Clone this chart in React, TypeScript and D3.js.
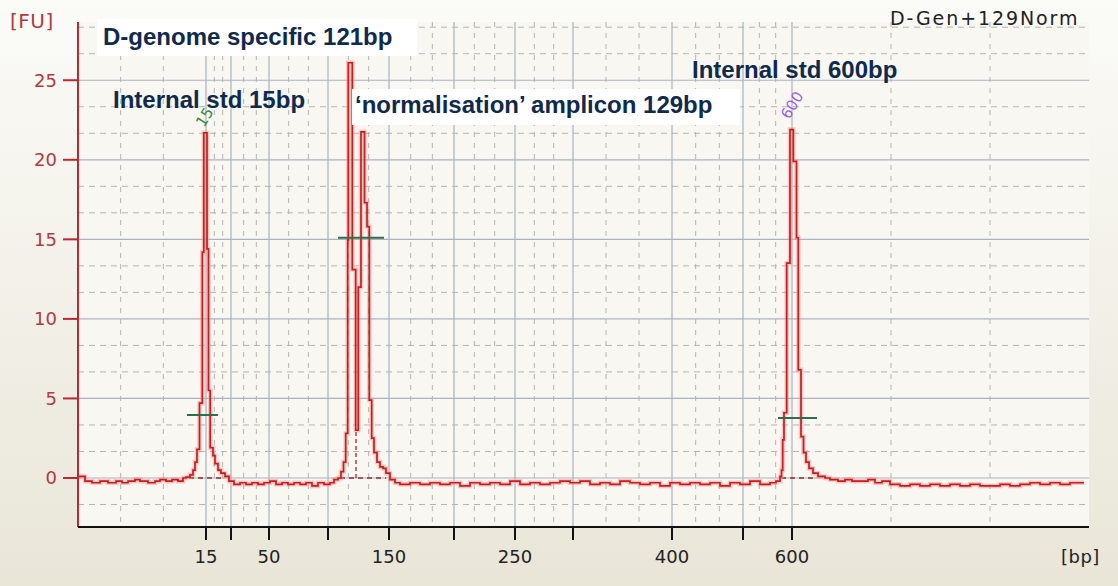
import React from 'react';
import * as d3 from 'd3';

// Ladder positions on the migration axis (s) and their sizes (bp)
const ladderTime = [42.8, 45.3, 49.1, 55.0, 61.1, 67.6, 73.7, 79.5, 89.4, 96.5, 101.4];
const ladderBp = [15, 25, 50, 100, 150, 200, 250, 300, 400, 500, 600];
const labelledBp = [15, 50, 150, 250, 400, 600];
const fuTicks = [0, 5, 10, 15, 20, 25];
const timeDomain = [30, 131.1];
const fuDomain = [-3.08, 28.66];

// Electropherogram trace: [migration time (s), fluorescence (FU)]
const traceLeft: [number, number][] = [
  [30.0, 0.1], [30.7, -0.2], [31.4, -0.3], [32.2, -0.2], [33.0, -0.3], [33.8, -0.2], [34.4, -0.3],
  [35.0, -0.2], [35.7, -0.1], [36.2, -0.2], [37.0, -0.3], [37.7, -0.2], [38.2, -0.1], [38.8, -0.2],
  [39.4, -0.1], [40.0, -0.2], [40.5, 0.0],
];
const tracePeak15: [number, number][] = [
  [40.8, 0.05], [41.2, 0.2], [41.5, 0.5], [41.7, 1.0], [41.9, 1.8], [42.15, 4.7], [42.43, 14.2],
  [42.58, 21.7], [42.9, 14.4], [43.05, 5.5], [43.22, 1.9], [43.5, 1.4], [43.7, 0.9], [44.0, 0.5],
  [44.3, 0.3], [44.7, 0.1],
];
const traceMid1: [number, number][] = [
  [45.1, -0.2], [45.6, -0.4], [46.2, -0.3], [46.8, -0.4], [47.4, -0.3], [48.0, -0.4], [48.6, -0.3],
  [49.2, -0.2], [49.8, -0.4], [50.4, -0.3], [51.0, -0.4], [51.6, -0.3], [52.2, -0.4], [52.8, -0.3],
  [53.4, -0.5], [54.0, -0.3], [54.6, -0.4], [55.2, -0.3], [55.6, -0.1],
];
const tracePeak121_129: [number, number][] = [
  [56.0, 0.0], [56.3, 0.4], [56.55, 1.0], [56.77, 2.8], [56.97, 14.95], [57.03, 26.1], [57.43, 13.1],
  [57.77, 3.0], [58.03, 12.0], [58.3, 21.75], [58.65, 17.3], [58.9, 15.8], [59.13, 4.9], [59.37, 2.5],
  [59.6, 1.6], [59.9, 1.0], [60.2, 0.7], [60.5, 0.6], [60.8, 0.3], [61.2, -0.1],
];
const traceMid2: [number, number][] = [
  [61.7, -0.3], [62.2, -0.4], [63.2, -0.3], [64.2, -0.4], [65.2, -0.3], [66.2, -0.4], [67.2, -0.3],
  [68.2, -0.5], [69.2, -0.3], [70.2, -0.4], [71.2, -0.3], [72.2, -0.4], [73.2, -0.2], [74.2, -0.4],
  [75.2, -0.3], [76.2, -0.4], [77.2, -0.3], [78.2, -0.2], [79.2, -0.3], [80.2, -0.2], [81.2, -0.4],
  [82.2, -0.3], [83.2, -0.4], [84.2, -0.2], [85.2, -0.3], [86.2, -0.4], [87.2, -0.3], [88.2, -0.5],
  [89.2, -0.3], [90.2, -0.4], [91.2, -0.3], [92.2, -0.4], [93.2, -0.3], [94.2, -0.5], [95.2, -0.3],
  [96.2, -0.4], [97.2, -0.2], [98.2, -0.4], [99.2, -0.3], [99.8, -0.2],
];
const tracePeak600: [number, number][] = [
  [100.2, 0.1], [100.35, 0.5], [100.47, 2.4], [100.6, 4.1], [100.87, 13.5], [101.2, 21.9],
  [101.53, 19.9], [101.85, 15.1], [102.03, 6.8], [102.3, 2.6], [102.55, 1.6], [102.8, 1.0],
  [103.1, 0.6], [103.5, 0.3], [104.0, 0.1],
];
const traceRight: [number, number][] = [
  [104.7, 0.0], [105.2, -0.1], [106.0, -0.2], [106.7, -0.1], [107.4, -0.2], [108.2, -0.2], [109.0, -0.1],
  [109.7, -0.3], [110.4, -0.2], [111.2, -0.4], [112.2, -0.5], [113.2, -0.4], [114.2, -0.5], [115.2, -0.4],
  [116.2, -0.5], [117.2, -0.4], [118.2, -0.5], [119.2, -0.4], [120.2, -0.5], [121.2, -0.5], [122.2, -0.4],
  [123.2, -0.5], [124.2, -0.4], [125.2, -0.3], [126.2, -0.4], [127.2, -0.3], [128.2, -0.4], [129.2, -0.3],
  [130.5, -0.3], [130.6, -0.3],
];

// Peak integration marks
const peakMarkStart = [40.9, 56.0, 100.0];
const peakMarkEnd = [44.0, 60.6, 103.9];
const peakMarkLevel = [3.96, 15.1, 3.77];
const peakBaseStart = [41.1, 56.2, 100.3];
const peakBaseEnd = [44.5, 60.8, 103.8];
const splitTime = [57.8];
const splitLevel = [3.0];

// Ladder peak tags
const tagText = ['15', '600'];
const tagTime = [42.6, 101.1];
const tagFU = [22.0, 22.5];
const tagColor = ['#2f8a3e', '#9a5ee6'];

const W = 1118;
const H = 586;
const L = 78, R = 1089, T = 22, B = 527;

export default function App() {
  const x = d3.scaleLinear().domain(timeDomain).range([L, R]);
  const y = d3.scaleLinear().domain(fuDomain).range([B, T]);

  const trace = [...traceLeft, ...tracePeak15, ...traceMid1, ...tracePeak121_129, ...traceMid2, ...tracePeak600, ...traceRight];
  const line = d3.line<[number, number]>().x(d => x(d[0])).y(d => y(d[1])).curve(d3.curveStepAfter);
  const path = line(trace) || '';

  // minor vertical grid: thirds of each ladder segment
  const bounds = [timeDomain[0], ...ladderTime, timeDomain[1]];
  const minorV: number[] = [];
  for (let i = 0; i < bounds.length - 1; i++) {
    const a = bounds[i], b = bounds[i + 1];
    minorV.push(a + (b - a) / 3, a + (2 * (b - a)) / 3);
  }
  const minorH: number[] = [];
  for (let v = -5; v <= 30; v += 5) {
    [v + 5 / 3, v + 10 / 3].forEach(m => { if (m > fuDomain[0] && m < fuDomain[1]) minorH.push(m); });
  }

  const tickFont = "'DejaVu Sans', Verdana, sans-serif";
  const annFont = "'Liberation Sans', Arial, Helvetica, sans-serif";
  const navy = '#0f2a4d';

  return (
    <svg width={W} height={H} style={{ position: 'fixed', left: 0, top: 0, display: 'block' }}>
      <defs>
        <linearGradient id="bg" x1="0" y1="0" x2="0" y2="1">
          <stop offset="0" stopColor="#fbfbf8" />
          <stop offset="1" stopColor="#e9e6d8" />
        </linearGradient>
      </defs>
      <rect x={0} y={0} width={W} height={H} fill="url(#bg)" />
      <rect x={L} y={T} width={R - L} height={B - T} fill="#f8f7f2" />

      {/* minor grid */}
      {minorH.map((v, i) => (
        <line key={'mh' + i} x1={L} x2={R} y1={y(v)} y2={y(v)} stroke="#b4b4b0" strokeWidth={1} strokeDasharray="6,5" />
      ))}
      {minorV.map((t, i) => (
        <line key={'mv' + i} x1={x(t)} x2={x(t)} y1={T} y2={B} stroke="#b4b4b0" strokeWidth={1} strokeDasharray="5,6" />
      ))}
      {/* major grid */}
      {fuTicks.map(v => (
        <line key={'h' + v} x1={L} x2={R} y1={y(v)} y2={y(v)} stroke="#a9b3c2" strokeWidth={1.2} />
      ))}
      {ladderTime.map((t, i) => (
        <line key={'v' + i} x1={x(t)} x2={x(t)} y1={T} y2={B} stroke="#a9b3c2" strokeWidth={1.2} />
      ))}

      {/* peak baselines */}
      {peakBaseStart.map((s, i) => (
        <line key={'pb' + i} x1={x(s)} x2={x(peakBaseEnd[i])} y1={y(0)} y2={y(0)} stroke="#9a2a2a" strokeWidth={1.3} strokeDasharray="5,4" />
      ))}
      {splitTime.map((t, i) => (
        <line key={'sp' + i} x1={x(t)} x2={x(t)} y1={y(0)} y2={y(splitLevel[i])} stroke="#9a2a2a" strokeWidth={1.3} strokeDasharray="4,3" />
      ))}

      {/* trace */}
      <path d={path} fill="none" stroke="#ff8a8a" strokeOpacity={0.45} strokeWidth={4.5} />
      <path d={path} fill="none" stroke="#c81d1d" strokeWidth={1.7} />

      {/* peak markers */}
      {peakMarkStart.map((s, i) => (
        <line key={'pm' + i} x1={x(s)} x2={x(peakMarkEnd[i])} y1={y(peakMarkLevel[i])} y2={y(peakMarkLevel[i])} stroke="#2e6e4e" strokeWidth={2} />
      ))}

      {/* ladder tags */}
      {tagText.map((t, i) => (
        <text key={'tg' + i} transform={`translate(${x(tagTime[i])},${y(tagFU[i])}) rotate(-58)`} fontFamily={tickFont} fontSize={15} fill={tagColor[i]}>{t}</text>
      ))}

      {/* y axis */}
      <line x1={L} x2={L} y1={T} y2={B} stroke="#c0262d" strokeWidth={2} />
      {fuTicks.map(v => (
        <g key={'yt' + v}>
          <line x1={L - 15} x2={L} y1={y(v)} y2={y(v)} stroke="#c0262d" strokeWidth={2} />
          <text x={L - 21} y={y(v)} dy="0.36em" textAnchor="end" fontFamily={tickFont} fontSize={18} fill="#b23a40">{v}</text>
        </g>
      ))}
      <text x={10} y={28} fontFamily={tickFont} fontSize={20} fill="#b23a40" letterSpacing={0.5}>[FU]</text>

      {/* x axis */}
      <line x1={L} x2={R} y1={B} y2={B} stroke="#111" strokeWidth={2} />
      {ladderTime.map((t, i) => (
        <line key={'xt' + i} x1={x(t)} x2={x(t)} y1={B} y2={B + 13} stroke="#111" strokeWidth={2} />
      ))}
      {ladderTime.map((t, i) => labelledBp.includes(ladderBp[i]) ? (
        <text key={'xl' + i} x={x(t)} y={563} textAnchor="middle" fontFamily={tickFont} fontSize={18} fill="#222">{ladderBp[i]}</text>
      ) : null)}
      <text x={1061} y={563} fontFamily={tickFont} fontSize={18} fill="#222" letterSpacing={0.5}>[bp]</text>

      {/* title */}
      <text x={890} y={25} fontFamily={tickFont} fontSize={19} fill="#222" letterSpacing={1.9}>D-Gen+129Norm</text>

      {/* annotations */}
      <rect x={97} y={19} width={320} height={37} fill="#ffffff" />
      <text x={103} y={45} fontFamily={annFont} fontWeight="bold" fontSize={24} fill={navy}>D-genome specific 121bp</text>
      <text x={113} y={108} fontFamily={annFont} fontWeight="bold" fontSize={24} fill={navy}>Internal std 15bp</text>
      <rect x={352} y={89} width={388} height={36} fill="#ffffff" />
      <text x={355} y={113} fontFamily={annFont} fontWeight="bold" fontSize={24} fill={navy}>‘normalisation’ amplicon 129bp</text>
      <text x={692} y={78} fontFamily={annFont} fontWeight="bold" fontSize={24} fill={navy}>Internal std 600bp</text>
    </svg>
  );
}
